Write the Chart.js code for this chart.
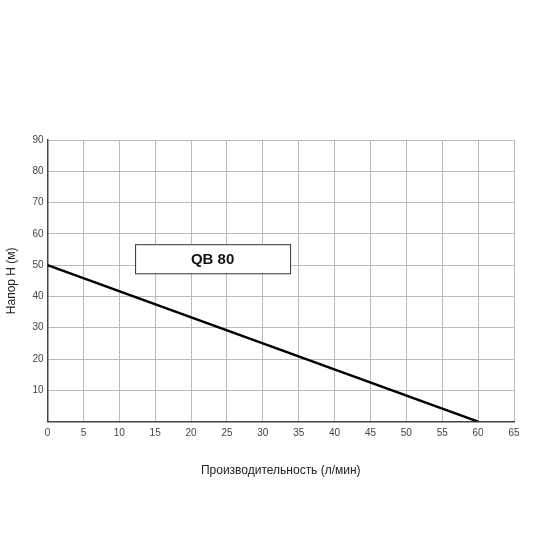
<!DOCTYPE html>
<html>
<head>
<meta charset="utf-8">
<script src="https://cdn.jsdelivr.net/npm/chart.js@4"></script>
<style>
  html, body { margin: 0; padding: 0; background: #fff; }
  #wrap { width: 550px; height: 550px; }
</style>
</head>
<body>
<div id="wrap"><canvas id="grafica"></canvas></div>
<script>
const flowValues = [0, 60];
const headValues = [50, 0];
const xTicks = [0, 5, 10, 15, 20, 25, 30, 35, 40, 45, 50, 55, 60, 65];
const yTicks = [10, 20, 30, 40, 50, 60, 70, 80, 90];
const modelName = 'QB 80';
const labelBox = { x1: 12.2, x2: 33.8, y1: 47.4, y2: 56.7 };

const boxPlugin = {
    id: 'modelBox',
    afterDatasetsDraw(chart) {
        const ctx = chart.ctx;
        const sx = chart.scales.x, sy = chart.scales.y;
        const l = sx.getPixelForValue(labelBox.x1), r = sx.getPixelForValue(labelBox.x2);
        const t = sy.getPixelForValue(labelBox.y2), b = sy.getPixelForValue(labelBox.y1);
        ctx.save();
        ctx.fillStyle = '#fff';
        ctx.fillRect(l, t, r - l, b - t);
        ctx.strokeStyle = '#333';
        ctx.lineWidth = 1;
        ctx.strokeRect(l + 0.5, t + 0.5, r - l, b - t);
        ctx.fillStyle = '#111';
        ctx.font = 'bold 15px "Liberation Sans", Arial, sans-serif';
        ctx.textAlign = 'center';
        ctx.textBaseline = 'middle';
        ctx.fillText(modelName, (l + r) / 2, (t + b) / 2 + 1);
        ctx.restore();
    }
};

new Chart(document.getElementById('grafica'), {
    type: 'scatter',
    data: {
        datasets: [{
            data: flowValues.map((x, i) => ({ x: x, y: headValues[i] })),
            showLine: true,
            borderColor: '#000',
            borderWidth: 2.5,
            pointRadius: 0
        }]
    },
    options: {
        responsive: true,
        maintainAspectRatio: false,
        animation: false,
        layout: { padding: { top: 140, right: 36, bottom: 68, left: 0 } },
        plugins: { legend: { display: false }, tooltip: { enabled: false } },
        scales: {
            x: {
                type: 'linear', min: 0, max: 65,
                afterBuildTicks: (s) => { s.ticks = xTicks.map(v => ({ value: v })); },
                grid: { color: '#bbb', drawTicks: false },
                border: { color: '#444', width: 1.5 },
                ticks: { color: '#444', font: { size: 10, family: '"Liberation Sans", Arial' }, padding: 6 },
                title: { display: true, text: 'Производительность (л/мин)', color: '#222',
                         font: { size: 12, family: '"Liberation Sans", Arial' }, padding: { top: 18 } }
            },
            y: {
                type: 'linear', min: 0, max: 90,
                afterBuildTicks: (s) => { s.ticks = yTicks.map(v => ({ value: v })); },
                grid: { color: '#bbb', drawTicks: false },
                border: { color: '#444', width: 1.5 },
                ticks: { color: '#444', font: { size: 10, family: '"Liberation Sans", Arial' }, padding: 4 },
                title: { display: true, text: 'Напор H (м)', color: '#222',
                         font: { size: 12, family: '"Liberation Sans", Arial' }, padding: { bottom: 10 } }
            }
        }
    },
    plugins: [boxPlugin]
});
</script>
</body>
</html>
